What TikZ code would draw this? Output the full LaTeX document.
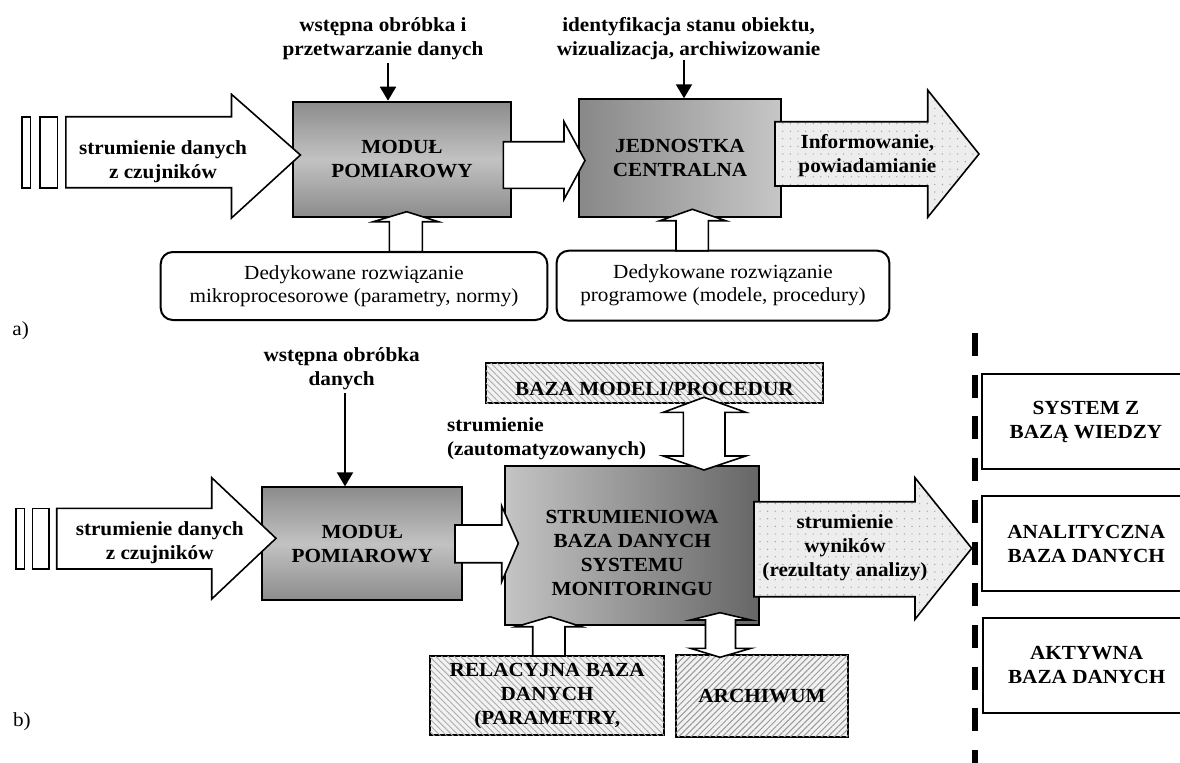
\documentclass[tikz,border=0pt]{standalone}
\usepackage{fontspec}
\setmainfont{Liberation Serif}[FakeStretch=1.06]
\usetikzlibrary{arrows.meta,patterns.meta}

\definecolor{modedge}{HTML}{8C8C8C}
\definecolor{modmid}{HTML}{C2C2C2}
\definecolor{cpudark}{HTML}{888888}
\definecolor{cpulight}{HTML}{C6C6C6}
\definecolor{dblight}{HTML}{C4C4C4}
\definecolor{dbdark}{HTML}{666666}
\definecolor{dotfill}{HTML}{EDEDED}
\definecolor{hatchfill}{HTML}{F2F2F2}

\tikzset{
  txt/.style={font=\fontsize{10}{12}\selectfont\bfseries, align=center, inner sep=0pt},
  rtxt/.style={font=\fontsize{10}{11.5}\selectfont, align=center, inner sep=0pt},
  box/.style={draw, line width=1pt, inner sep=0pt, align=center,
    font=\fontsize{10}{12}\selectfont\bfseries},
  modbox/.style={box, top color=modedge, bottom color=modedge, middle color=modmid},
  cpubox/.style={box, left color=cpudark, right color=cpulight},
  dbbox/.style={box, left color=dblight, right color=dbdark},
  hatchNW/.style={box, fill=hatchfill,
    postaction={pattern={Lines[angle=-45,distance=2.2pt,line width=.45pt]}, pattern color=gray!65}},
  hatchNE/.style={box, fill=hatchfill,
    postaction={pattern={Lines[angle=45,distance=2.2pt,line width=.5pt]}, pattern color=gray!80}},
  softbox/.style={draw, line width=1pt, rounded corners=6pt, inner sep=0pt, align=center,
    font=\fontsize{10}{11.5}\selectfont},
  sidebox/.style={box, fill=white},
  blk/.style={draw, line width=.8pt, fill=white, line join=miter},
  dotblk/.style={draw, line width=.8pt, line join=miter, preaction={fill=dotfill},
    pattern={Dots[distance=3.8pt,radius=.35pt]}, pattern color=gray!75},
  feed/.style={line width=1pt, -{Triangle[length=7pt,width=8pt]}},
  divider/.style={line width=3pt, dash pattern=on 11.5pt off 9.35pt},
}
% extra room above the first line pushes a box text slightly down
\newcommand\lowerby[1]{\rule{0pt}{#1}}

\begin{document}
\begin{tikzpicture}[x=0.5pt,y=-0.5pt]
\useasboundingbox (0,0) rectangle (1180,762);
\clip (0,0) rectangle (1180,762);

% ---------------- part a) ----------------
\node[modbox, minimum width=108.7pt, minimum height=57.5pt] (m1) at (402,159.2) {MODUŁ\\POMIAROWY};
\node[cpubox, minimum width=100.65pt, minimum height=58.7pt] (j1) at (680,158) {JEDNOSTKA\\CENTRALNA};
\node[softbox, minimum width=193.3pt, minimum height=34pt] (r1) at (354,286)
  {Dedykowane rozwiązanie\\mikroprocesorowe (parametry, normy)};
\node[softbox, minimum width=166.35pt, minimum height=35pt] (r2) at (723,285.7)
  {Dedykowane rozwiązanie\\programowe (modele, procedury)};

% sensor bars and input stream
\draw[line width=.8pt, fill=white] (21.8,116.7) rectangle (30.6,187.7);
\draw[line width=.8pt, fill=white] (40.2,116.7) rectangle (57.4,187.7);
\path[blk] (65.8,116.7) -- (231.5,116.7) -- (231.5,94.3) -- (300.4,155) -- (231.5,218)
  -- (231.5,187.7) -- (65.8,187.7) -- cycle;
% module -> central unit
\path[blk] (503.3,141.7) -- (564,141.7) -- (564,121.7) -- (585,160.5) -- (564,199.3)
  -- (564,188.3) -- (503.3,188.3) -- cycle;
% output stream
\path[dotblk] (775,121.7) -- (927.7,121.7) -- (927.7,90) -- (979,154) -- (927.7,217.3)
  -- (927.7,186) -- (775,186) -- cycle;
% support arrows from the rounded boxes
\path[blk] (389.3,251.7) -- (389.3,221.7) -- (373.3,221.7) -- (406.7,211.7) -- (438.3,221.7)
  -- (422.3,221.7) -- (422.3,251.7) -- cycle;
\path[blk] (676,250.7) -- (676,220.7) -- (660,220.7) -- (692.3,209.3) -- (725.7,220.7)
  -- (708.3,220.7) -- (708.3,250.7) -- cycle;

\node[txt] (ina) at (163,161.9) {strumienie danych\\z czujników};
\node[txt] (outa) at (867.4,155.4) {Informowanie,\\powiadamianie};
\node[txt] (t1) at (383,39.1) {wstępna obróbka i\\przetwarzanie danych};
\node[txt] (t2) at (688.6,38.8) {identyfikacja stanu obiektu,\\wizualizacja, archiwizowanie};

\coordinate (f1) at (388,63.3);
\draw[feed] (f1) -- (f1 |- m1.north);
\coordinate (f2) at (684,60);
\draw[feed] (f2) -- (f2 |- j1.north);

\node[rtxt, anchor=base west] (la) at (12,335) {a)};

% ---------------- part b) ----------------
\node[modbox, minimum width=100pt, minimum height=56.35pt] (m2) at (362.3,543.7) {MODUŁ\\POMIAROWY};
\node[dbbox, minimum width=127.15pt, minimum height=79.35pt] (s2) at (632.2,545.2)
  {\lowerby{14pt}STRUMIENIOWA\\BAZA DANYCH\\SYSTEMU\\MONITORINGU};
\node[hatchNW, minimum width=168.35pt, minimum height=20pt] (bm) at (654.4,383.3)
  {\lowerby{12pt}BAZA MODELI/PROCEDUR};
\node[hatchNW, minimum width=117.15pt, minimum height=39.5pt] (rel) at (547.2,695.5)
  {RELACYJNA BAZA\\DANYCH\\(PARAMETRY,};
\node[hatchNE, minimum width=86.3pt, minimum height=40.85pt] (arc) at (762,695.9) {ARCHIWUM};

\node[sidebox, minimum width=104pt, minimum height=47.5pt] (kb) at (1086,421.8) {SYSTEM Z\\BAZĄ WIEDZY};
\node[sidebox, minimum width=104pt, minimum height=47.5pt] (ab) at (1086.2,543.5) {ANALITYCZNA\\BAZA DANYCH};
\node[sidebox, minimum width=104pt, minimum height=47.5pt] (ac) at (1086.7,665.2) {AKTYWNA\\BAZA DANYCH};

% sensor bars and input stream
\draw[line width=.8pt, fill=white] (16,508.3) rectangle (24.3,569);
\draw[line width=.8pt, fill=white] (32.3,508.3) rectangle (49,569);
\path[blk] (56.7,508.3) -- (211.7,508.3) -- (211.7,477.7) -- (276,538.3) -- (211.7,599)
  -- (211.7,569) -- (56.7,569) -- cycle;
% module -> stream database
\path[blk] (455,525) -- (501.7,525) -- (501.7,506) -- (518.3,543.3) -- (501.7,581.7)
  -- (501.7,562.7) -- (455,562.7) -- cycle;
% result stream
\path[dotblk] (754,501.7) -- (915,501.7) -- (915,477.7) -- (971.7,548.3) -- (915,619.3)
  -- (915,596.7) -- (754,596.7) -- cycle;
% model base <-> stream database
\path[blk] (704,397.3) -- (745.7,412.3) -- (725,412.3) -- (725,456) -- (745.7,456) -- (704,470)
  -- (663.3,456) -- (683.3,456) -- (683.3,412.3) -- (663.3,412.3) -- cycle;
% relational base -> stream database
\path[blk] (532.7,656) -- (532.7,626.7) -- (516,626.7) -- (550,616.7) -- (581.7,626.7)
  -- (565,626.7) -- (565,656) -- cycle;
% stream database <-> archive
\path[blk] (720,612.7) -- (751,620) -- (735.5,620) -- (735.5,648.3) -- (751,648.3) -- (720,657.3)
  -- (690.5,648.3) -- (705.5,648.3) -- (705.5,620) -- (690.5,620) -- cycle;

\node[txt] (inb) at (159.7,542.6) {strumienie danych\\z czujników};
\node[txt] (t3) at (341.7,368.8) {wstępna obróbka\\danych};
\node[txt, align=left, anchor=west] (t4) at (446.7,439) {strumienie\\(zautomatyzowanych)};
\node[txt] (outb) at (845,547.6) {strumienie\\wyników\\(rezultaty analizy)};

\coordinate (f3) at (345,393.3);
\draw[feed] (f3) -- (f3 |- m2.north);

% divider between the monitoring system and the consumers
\coordinate (dv0) at (975,333);
\coordinate (dv1) at (975,775);
\draw[divider] (dv0) -- (dv1);

\node[rtxt, anchor=base west] (lb) at (12.7,726.7) {b)};
\end{tikzpicture}
\end{document}
